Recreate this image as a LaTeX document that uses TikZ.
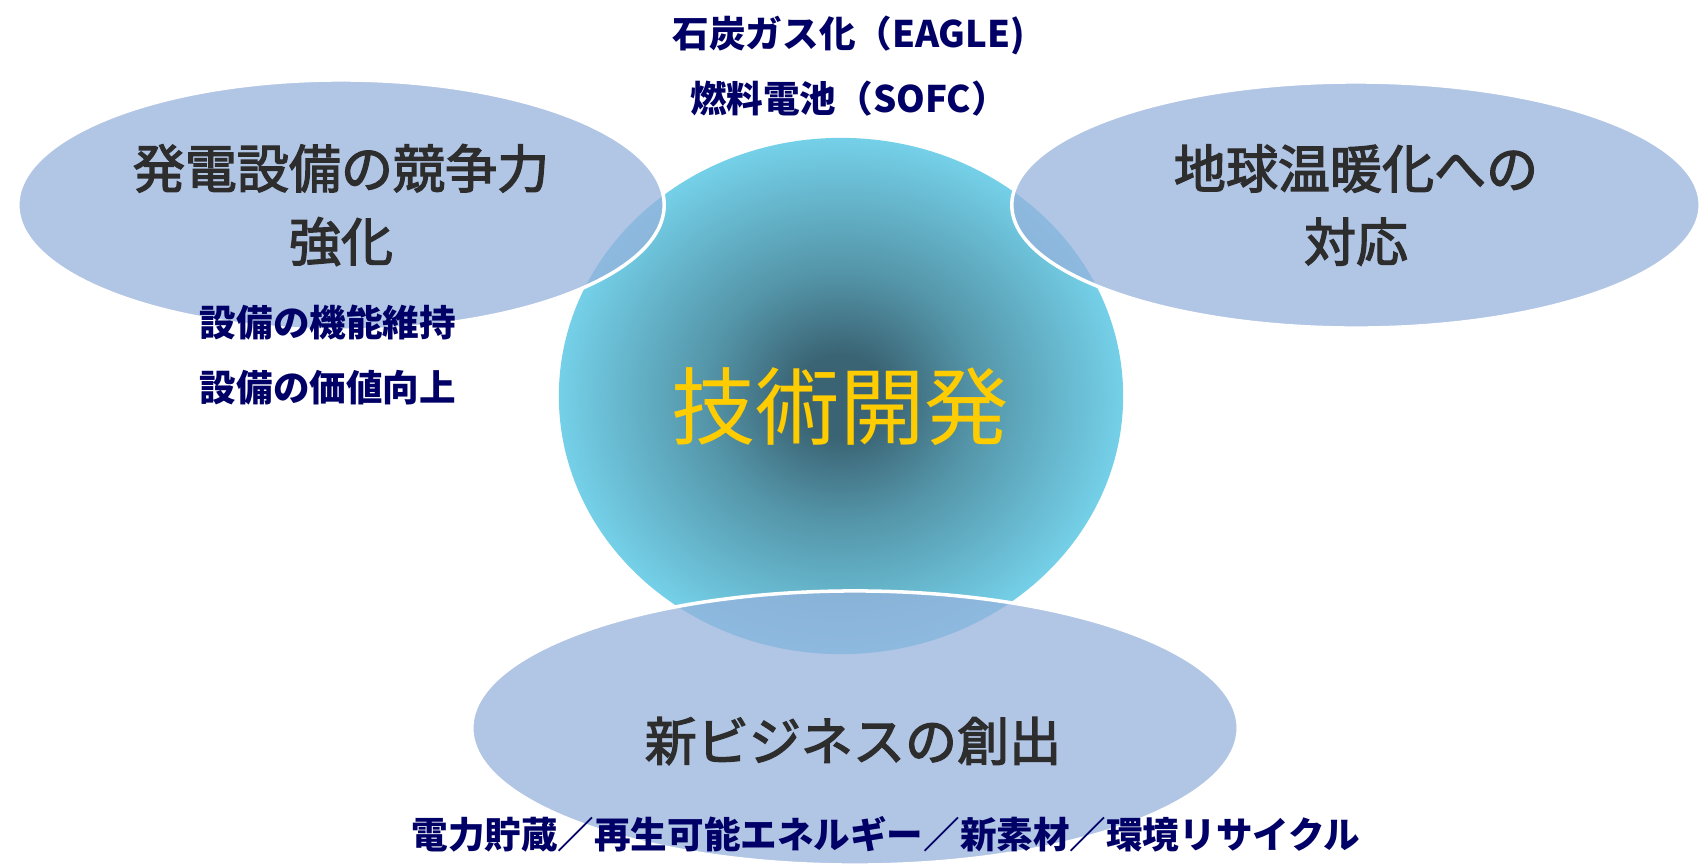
\documentclass[tikz,border=0pt]{standalone}
\usepackage{fontspec}
\usepackage{tikz}
\usetikzlibrary{shapes,positioning}
\newfontfamily\jpfont{Noto Sans CJK JP}
\newfontfamily\jpmidfont{Noto Sans CJK JP}[FakeBold=2.5]
\definecolor{navy}{HTML}{000066}
\definecolor{ink}{HTML}{2D2D2D}
\definecolor{gold}{HTML}{FFCC00}
\definecolor{skycyan}{HTML}{74D0E8}
\definecolor{deepteal}{HTML}{3A6474}
\definecolor{mist}{HTML}{97B2DD}
\pgfdeclareradialshading{coreglow}{\pgfpoint{0bp}{0bp}}{%
    color(0bp)=(deepteal); color(4bp)=(deepteal);
    color(12bp)=(deepteal!55!skycyan); color(25bp)=(skycyan); color(50bp)=(skycyan)}
\tikzset{
    core/.style={
        ellipse,
        shade,
        shading=coreglow,
        minimum width=5.64cm,
        minimum height=5.16cm,
        inner sep=0pt,
    },
    goal/.style={
        ellipse,
        draw=white,
        line width=1pt,
        fill=mist,
        fill opacity=0.75,
        inner sep=0pt,
    },
    topic/.style={
        text=ink,
        align=center,
        font=\jpmidfont\fontsize{14.8}{20.8}\selectfont,
    },
    note/.style={
        text=navy,
        align=center,
        font=\jpfont\bfseries\fontsize{10.4}{18.7}\selectfont,
    },
    headline/.style={
        text=gold,
        font=\jpfont\fontsize{24}{28}\selectfont,
    },
}
\begin{document}
\begin{tikzpicture}[x=0.01cm,y=-0.01cm]
    \fill[white] (0,0) rectangle (1702,866);
    \useasboundingbox (0,0) rectangle (1702,866);
    \node [core] (Core) at (841,396) {};
    \node [goal, minimum width=6.46cm, minimum height=2.5cm] (Power) at (341,205) {};
    \node [goal, minimum width=6.88cm, minimum height=2.46cm] (Climate) at (1356,205) {};
    \node [goal, minimum width=7.66cm, minimum height=2.74cm] (Business) at (855,728) {};
    \node [headline] (CoreText) at (840,407) {技術開発};
    \node [note] (CoreNote) at (849,66) {石炭ガス化（EAGLE)\\燃料電池（SOFC）};
    \node [topic] (PowerText) at (Power) {発電設備の競争力\\強化};
    \node [note] (PowerNote) at (328,355) {設備の機能維持\\設備の価値向上};
    \node [topic] (ClimateText) at (Climate) {地球温暖化への\\対応};
    \node [topic] (BusinessText) at (853,741) {新ビジネスの創出};
    \node [note] (BusinessNote) at (886,834) {電力貯蔵／再生可能エネルギー／新素材／環境リサイクル};
\end{tikzpicture}
\end{document}
